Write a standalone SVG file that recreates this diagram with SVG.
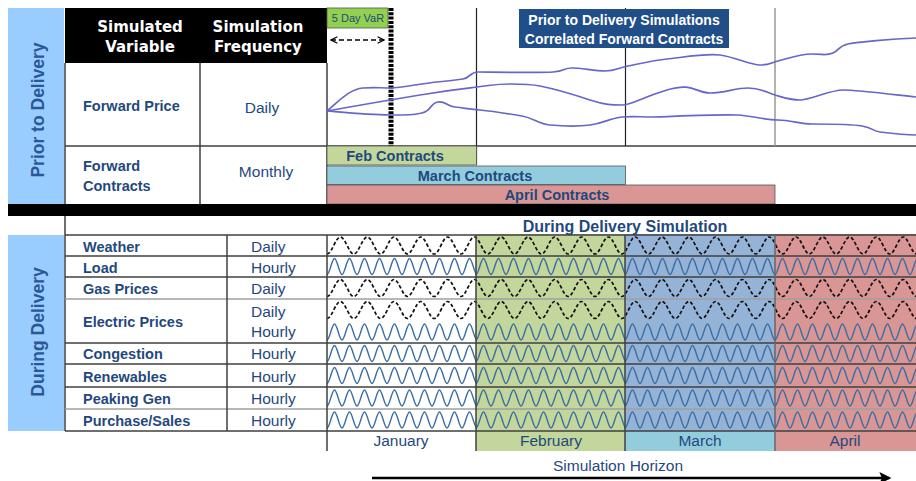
<svg xmlns="http://www.w3.org/2000/svg" width="916" height="481" viewBox="0 0 916 481">
<style>
.t{font-family:"Liberation Sans",Arial,sans-serif;fill:#1F497D}
.b{font-weight:bold}
.hd{font-family:"DejaVu Sans",Verdana,sans-serif;font-weight:bold;font-size:15px;fill:#fff;text-anchor:middle}
.side{font-family:"Liberation Sans",Arial,sans-serif;font-weight:bold;font-size:17.5px;fill:#2B5797;text-anchor:middle}
.var{font-size:14.5px;font-weight:bold}
.freq{font-size:15.5px}
.mid{text-anchor:middle}
.dk{stroke:#404040;stroke-width:1.5;fill:none}
.lt{stroke:#A0A0A0;stroke-width:1.5;fill:none}
.bw{fill:none;stroke:#3A6EA5;stroke-width:1.4}
.dw{fill:none;stroke:#111;stroke-width:1.7;stroke-dasharray:3.5 2.2}
.fc{fill:none;stroke:#6666CC;stroke-width:1.7}
</style>
<defs>
<path id="bw" class="bw" d="M0,8C2.73,8 4.77,-8 7.5,-8s4.77,16 7.5,16s4.77,-16 7.5,-16s4.77,16 7.5,16s4.77,-16 7.5,-16s4.77,16 7.5,16s4.77,-16 7.5,-16s4.77,16 7.5,16s4.77,-16 7.5,-16s4.77,16 7.5,16s4.77,-16 7.5,-16s4.77,16 7.5,16s4.77,-16 7.5,-16s4.77,16 7.5,16s4.77,-16 7.5,-16s4.77,16 7.5,16s4.77,-16 7.5,-16s4.77,16 7.5,16s4.77,-16 7.5,-16s4.77,16 7.5,16"/>
<path id="dw" class="dw" d="M0,8.5C4.87,8.5 8.53,-8.5 13.4,-8.5s8.53,17 13.4,17s8.53,-17 13.4,-17s8.53,17 13.4,17s8.53,-17 13.4,-17s8.53,17 13.4,17s8.53,-17 13.4,-17s8.53,17 13.4,17s8.53,-17 13.4,-17s8.53,17 13.4,17s8.53,-17 13.4,-17s8.53,17 13.4,17s8.53,-17 13.4,-17s8.53,17 13.4,17s8.53,-17 13.4,-17s8.53,17 13.4,17s8.53,-17 13.4,-17s8.53,17 13.4,17s8.53,-17 13.4,-17s8.53,17 13.4,17s8.53,-17 13.4,-17s8.53,17 13.4,17s8.53,-17 13.4,-17s8.53,17 13.4,17s8.53,-17 13.4,-17s8.53,17 13.4,17s8.53,-17 13.4,-17s8.53,17 13.4,17s8.53,-17 13.4,-17s8.53,17 13.4,17s8.53,-17 13.4,-17s8.53,17 13.4,17s8.53,-17 13.4,-17s8.53,17 13.4,17s8.53,-17 13.4,-17s8.53,17 13.4,17s8.53,-17 13.4,-17s8.53,17 13.4,17s8.53,-17 13.4,-17s8.53,17 13.4,17s8.53,-17 13.4,-17s8.53,17 13.4,17s8.53,-17 13.4,-17s8.53,17 13.4,17"/>
<g id="bRow"><use href="#bw" x="327"/><use href="#bw" x="476"/><use href="#bw" x="625"/><use href="#bw" x="775"/></g>
<marker id="chev" viewBox="0 0 10 10" refX="9" refY="5" markerWidth="8" markerHeight="8" orient="auto-start-reverse" markerUnits="userSpaceOnUse"><path d="M1,1 L9,5 L1,9" fill="none" stroke="#000" stroke-width="1.6"/></marker>
<marker id="ah" viewBox="0 0 10 10" refX="8" refY="5" markerWidth="14" markerHeight="12" orient="auto" markerUnits="userSpaceOnUse"><path d="M0,0 L10,5 L0,10 L2,5 Z" fill="#000"/></marker>
</defs>
<rect width="916" height="481" fill="#fff"/>

<g id="month-fills">
<rect x="476" y="234" width="149" height="217" fill="#C3D69B"/>
<rect x="625" y="234" width="150" height="197" fill="#95B3D7"/>
<rect x="625" y="431" width="150" height="20" fill="#93CDDD"/>
<rect x="775" y="234" width="141" height="217" fill="#D99694"/>
</g>

<g id="prior-panel">
<rect x="8" y="8" width="56" height="196" fill="#99CCFF"/>
<text class="side" transform="translate(44,110) rotate(-90)">Prior to Delivery</text>
</g>
<g id="during-panel">
<rect x="8" y="235" width="56" height="196" fill="#99CCFF"/>
<text class="side" transform="translate(44,332) rotate(-90)">During Delivery</text>
</g>

<g id="header">
<rect x="65" y="8" width="262" height="55" fill="#000"/>
<text class="hd" x="140" y="32">Simulated</text>
<text class="hd" x="140" y="52">Variable</text>
<text class="hd" x="258" y="32">Simulation</text>
<text class="hd" x="258" y="52">Frequency</text>
</g>

<g id="upper-grid">
<path class="dk" d="M65,63V204M200,63V204M327,63V204M65,146H916"/>
</g>
<g id="forward-price">
<text class="t var" x="83" y="111" font-size="15">Forward Price</text>
<text class="t freq mid" x="262" y="113">Daily</text>
</g>
<g id="forward-contracts">
<text class="t var" x="83" y="171">Forward</text>
<text class="t var" x="83" y="191">Contracts</text>
<text class="t freq mid" x="266" y="177">Monthly</text>
</g>

<g id="chart-lines">
<path d="M476.5,8V165M625.5,8V146" stroke="#222" stroke-width="1.2" fill="none"/>
<path d="M775,8V146" stroke="#999" stroke-width="1.5" fill="none"/>
</g>
<g id="var-box">
<rect x="327" y="8" width="61" height="20" fill="#92D050" stroke="#555" stroke-width="0.8"/>
<text class="t mid" x="358" y="22" font-size="11">5 Day VaR</text>
<path d="M391,8V146" stroke="#000" stroke-width="5" stroke-dasharray="3 1.3" fill="none"/>
</g>
<g id="title-box">
<rect x="519" y="9" width="210" height="39" fill="#1F4E89"/>
<text class="b mid" x="624" y="25" font-family="Liberation Sans,Arial,sans-serif" font-size="14" fill="#fff">Prior to Delivery Simulations</text>
<text class="b mid" x="624" y="44" font-family="Liberation Sans,Arial,sans-serif" font-size="14" fill="#fff">Correlated Forward Contracts</text>
</g>
<g id="forward-curves">
<path class="fc" d="M327,111C340,100 350,89 363,88S380,88 390,88S425,83 437,82S456,80 463,79S470,72 478,72S540,73 553,72S563,68 572,68S595,71 605,71S618,68 628,66S655,60 667,59S705,53 720,55S750,65 760,65S770,63 778,61S800,54 812,54S826,56 833,53S838,46 848,44S890,39 916,38"/>
<path class="fc" d="M327,111C360,105 390,100 420,95S460,89 477,87S495,84 510,84S530,84 540,86S575,95 590,100S612,105 622,105S640,98 667,90S695,93 710,93S735,88 748,88S765,92 775,95S790,100 800,100S830,90 843,90S880,93 916,97"/>
<path class="fc" d="M327,111C350,113 370,115 390,115S412,115 422,113S430,103 438,102S446,106 455,107S470,109 480,110S510,114 522,116S538,124 550,125S575,127 590,125S610,118 622,117S640,117 650,117S720,114 737,115S765,120 778,120S800,124 812,124S850,124 862,126S872,131 880,132S905,135 916,135"/>
</g>

<g id="feb-contracts">
<rect x="327" y="146" width="149.5" height="19" fill="#C3D69B" stroke="#555" stroke-width="0.8"/>
<text class="t b mid" x="395" y="161" font-size="14.5">Feb Contracts</text>
</g>
<g id="march-contracts">
<rect x="327" y="166" width="298.5" height="18.5" fill="#93CDDD" stroke="#555" stroke-width="0.8"/>
<text class="t b mid" x="475" y="181" font-size="14.5">March Contracts</text>
</g>
<g id="april-contracts">
<rect x="327" y="185" width="448" height="19" fill="#D99694" stroke="#555" stroke-width="0.8"/>
<text class="t b mid" x="557" y="200" font-size="14.5">April Contracts</text>
</g>

<rect x="8" y="204" width="908" height="12" fill="#000"/>

<g id="during-title">
<text class="t b mid" x="625" y="232" font-size="16">During Delivery Simulation</text>
</g>

<g id="waves">
<use href="#dw" x="327" y="245.5"/>
<use href="#bRow" y="266.5"/>
<use href="#dw" x="327" y="288"/>
<use href="#dw" x="327" y="310"/>
<use href="#bRow" y="332"/>
<use href="#bRow" y="353.5"/>
<use href="#bRow" y="375.5"/>
<use href="#bRow" y="398"/>
<use href="#bRow" y="420"/>
</g>

<g id="lower-grid">
<path class="dk" d="M65,216V431M65,235H916M65,256H916M65,277H916M65,343H916M65,364H916M65,387H916M65,431H916"/>
<path class="lt" d="M65,299H916M65,409H916"/>
<path class="dk" d="M227,235V431M327,235V451M476,235V451M625,235V451"/>
<path d="M775,235V451" stroke="#666" stroke-width="1.5"/>
</g>

<g id="row-weather"><text class="t var" x="83" y="252">Weather</text><text class="t freq" x="251" y="252">Daily</text></g>
<g id="row-load"><text class="t var" x="83" y="273">Load</text><text class="t freq" x="251" y="273">Hourly</text></g>
<g id="row-gas"><text class="t var" x="83" y="294">Gas Prices</text><text class="t freq" x="251" y="294">Daily</text></g>
<g id="row-electric"><text class="t var" x="83" y="327">Electric Prices</text><text class="t freq" x="251" y="317">Daily</text><text class="t freq" x="251" y="337">Hourly</text></g>
<g id="row-congestion"><text class="t var" x="83" y="359">Congestion</text><text class="t freq" x="251" y="359">Hourly</text></g>
<g id="row-renewables"><text class="t var" x="83" y="382">Renewables</text><text class="t freq" x="251" y="382">Hourly</text></g>
<g id="row-peaking"><text class="t var" x="83" y="404">Peaking Gen</text><text class="t freq" x="251" y="404">Hourly</text></g>
<g id="row-purchase"><text class="t var" x="83" y="426">Purchase/Sales</text><text class="t freq" x="251" y="426">Hourly</text></g>

<g id="months">
<text class="t freq mid" x="401" y="446">January</text>
<text class="t freq mid" x="551" y="446">February</text>
<text class="t freq mid" x="700" y="446">March</text>
<text class="t freq mid" x="845" y="446">April</text>
</g>
<g id="horizon">
<text class="t freq mid" x="618" y="471">Simulation Horizon</text>
</g>

<g id="connectors">
<path d="M331,40H384" stroke="#000" stroke-width="1.5" stroke-dasharray="5 3" fill="none" marker-start="url(#chev)" marker-end="url(#chev)"/>
<path d="M372,478H889" stroke="#000" stroke-width="2.5" fill="none" marker-end="url(#ah)"/>
</g>
</svg>
